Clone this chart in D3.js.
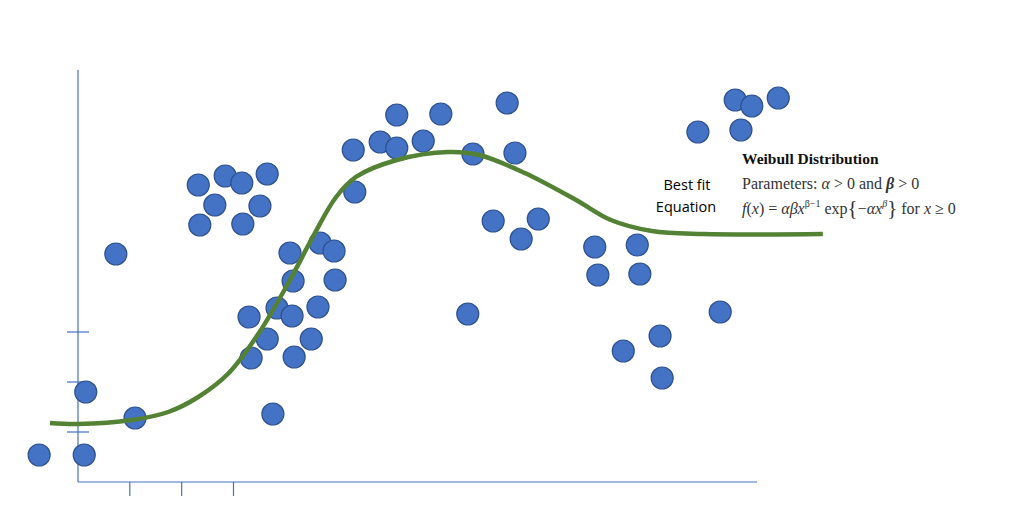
<!DOCTYPE html>
<html>
<head>
<meta charset="utf-8">
<script src="https://cdn.jsdelivr.net/npm/d3@7"></script>
<style>
  body { margin: 0; background: #fff; }
</style>
</head>
<body>
<div id="chart"></div>
<script>
// scatter points (x, y) in axis units
var pointX = [-0.75, 0.12, 0.15, 0.73, 1.10, 2.32, 2.35, 2.64, 2.84, 3.16, 3.18, 3.30, 3.34, 3.51, 3.65,
  3.65, 3.76, 3.84, 4.09, 4.13, 4.15, 4.17, 4.50, 4.63, 4.67, 4.94, 4.96, 5.31, 5.34, 5.83,
  6.15, 6.15, 6.66, 7.00, 7.52, 7.62, 8.01, 8.28, 8.43, 8.55, 8.88, 9.97, 10.03, 10.52,
  10.79, 10.84, 11.23, 11.27, 11.96, 12.39, 12.68, 12.79, 13.00, 13.51]
var pointY = [0.54, 0.54, 1.80, 4.56, 1.28, 5.94, 5.14, 5.54, 6.12, 5.98, 5.16, 3.30, 2.48, 5.52, 6.16,
  2.86, 1.36, 3.48, 4.58, 3.32, 4.02, 2.50, 2.86, 3.50, 4.78, 4.62, 4.04, 6.64, 5.80, 6.80,
  6.68, 7.34, 6.82, 7.36, 3.36, 6.56, 5.22, 7.58, 6.58, 4.86, 5.26, 4.70, 4.14, 2.62,
  4.74, 4.16, 2.92, 2.08, 7.00, 3.40, 7.64, 7.04, 7.52, 7.68]

// best fit curve
var fitX = [-0.54, 0, 1.04, 1.74, 2.32, 2.91, 3.49, 4.09, 4.57, 4.98, 5.36, 6.15, 7.14, 7.74, 8.62, 9.61, 10.28, 11.07, 12.06, 14.37]
var fitY = [1.18, 1.16, 1.24, 1.40, 1.70, 2.18, 2.98, 4.04, 4.98, 5.70, 6.10, 6.44, 6.60, 6.54, 6.18, 5.64, 5.24, 5.02, 4.96, 4.96]

var xTicks = [1, 2, 3]
var yTicks = [1, 2, 3]

var width = 1024
var height = 521

var svg = d3
  .select('#chart')
  .append('svg')
  .attr('width', width)
  .attr('height', height)

var xScale = d3.scaleLinear().domain([0, 13.1]).range([78, 757])
var yScale = d3.scaleLinear().domain([0, 8.24]).range([482, 70])

var axisColor = '#4472C4'

// axes lines
svg.append('line')
  .attr('x1', xScale(0)).attr('x2', xScale(0))
  .attr('y1', yScale(0)).attr('y2', yScale(8.24))
  .attr('stroke', axisColor)
  .attr('stroke-width', 1.2)

svg.append('line')
  .attr('x1', xScale(0)).attr('x2', xScale(13.1))
  .attr('y1', yScale(0)).attr('y2', yScale(0))
  .attr('stroke', axisColor)
  .attr('stroke-width', 1.2)

svg.selectAll('.xtick')
  .data(xTicks)
  .enter()
  .append('line')
  .attr('class', 'xtick')
  .attr('x1', d => xScale(d)).attr('x2', d => xScale(d))
  .attr('y1', yScale(0)).attr('y2', yScale(0) + 14)
  .attr('stroke', axisColor)
  .attr('stroke-width', 1.2)

svg.selectAll('.ytick')
  .data(yTicks)
  .enter()
  .append('line')
  .attr('class', 'ytick')
  .attr('x1', xScale(0) - 11).attr('x2', xScale(0) + 11)
  .attr('y1', d => yScale(d)).attr('y2', d => yScale(d))
  .attr('stroke', axisColor)
  .attr('stroke-width', 1.2)

// points
var points = pointX.map((x, i) => ({ x: x, y: pointY[i] }))

svg.selectAll('.dot')
  .data(points)
  .enter()
  .append('circle')
  .attr('class', 'dot')
  .attr('cx', d => xScale(d.x))
  .attr('cy', d => yScale(d.y))
  .attr('r', 11)
  .attr('fill', '#4472C4')
  .attr('stroke', '#2F528F')
  .attr('stroke-width', 1.2)

// fit curve on top
var fit = fitX.map((x, i) => ({ x: x, y: fitY[i] }))

var line = d3.line()
  .x(d => xScale(d.x))
  .y(d => yScale(d.y))
  .curve(d3.curveCatmullRom.alpha(0.5))

svg.append('path')
  .datum(fit)
  .attr('d', line)
  .attr('fill', 'none')
  .attr('stroke', '#548235')
  .attr('stroke-width', 4.5)

// labels
var label = svg.append('text')
  .attr('font-family', 'Open Sans, sans-serif')
  .attr('font-size', 14.5)
  .attr('fill', '#000')
  .attr('text-anchor', 'middle')

label.append('tspan').attr('x', 687).attr('y', 190).text('Best fit')
label.append('tspan').attr('x', 686).attr('y', 212).text('Equation')

var serif = 'Liberation Serif, Times New Roman, serif'

svg.append('text')
  .attr('x', 742).attr('y', 164)
  .attr('font-family', serif)
  .attr('font-size', 15.5)
  .attr('font-weight', 'bold')
  .attr('fill', '#111')
  .text('Weibull Distribution')

var params = svg.append('text')
  .attr('x', 742).attr('y', 189)
  .attr('font-family', serif)
  .attr('font-size', 16)
  .attr('fill', '#333')

params.append('tspan').text('Parameters: ')
params.append('tspan').attr('font-style', 'italic').text('α')
params.append('tspan').text(' > 0 and ')
params.append('tspan').attr('font-style', 'italic').attr('font-weight', 'bold').text('β')
params.append('tspan').text(' > 0')

var eq = svg.append('text')
  .attr('x', 742).attr('y', 214)
  .attr('font-family', serif)
  .attr('font-size', 16)
  .attr('fill', '#333')

eq.append('tspan').attr('font-style', 'italic').text('f')
eq.append('tspan').text('(')
eq.append('tspan').attr('font-style', 'italic').text('x')
eq.append('tspan').text(') = ')
eq.append('tspan').attr('font-style', 'italic').text('αβx')
eq.append('tspan').attr('font-size', 10).attr('dy', -7).text('β−1')
eq.append('tspan').attr('dy', 7).text(' exp')
eq.append('tspan').attr('font-size', 21).attr('dy', 1).text('{')
eq.append('tspan').attr('dy', -1).text('−')
eq.append('tspan').attr('font-style', 'italic').text('αx')
eq.append('tspan').attr('font-size', 10).attr('dy', -7).attr('font-style', 'italic').text('β')
eq.append('tspan').attr('font-size', 21).attr('dy', 8).text('}')
eq.append('tspan').attr('dy', -1).text('  for ')
eq.append('tspan').attr('font-style', 'italic').text('x')
eq.append('tspan').text(' ≥ 0')
</script>
</body>
</html>
